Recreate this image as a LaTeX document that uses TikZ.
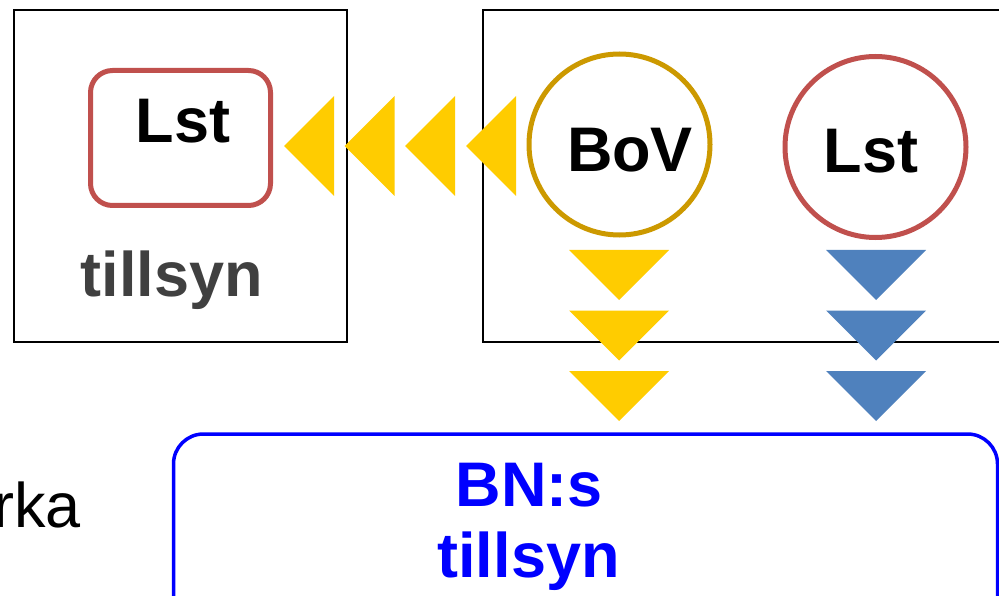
\documentclass[tikz,border=0pt]{standalone}
\usepackage{fontspec}
\setmainfont{Liberation Sans}
\definecolor{triyellow}{HTML}{FFCC00}
\definecolor{goldring}{HTML}{CC9900}
\definecolor{redring}{HTML}{C0504D}
\definecolor{triblue}{HTML}{4F81BD}
\definecolor{graytext}{HTML}{404040}
\definecolor{bntext}{HTML}{0000FF}
\tikzset{
  frame/.style={draw=black, line width=1.5pt},
  bigtext/.style={font=\fontsize{63}{71}\selectfont\bfseries, inner sep=0pt, anchor=base},
  leftarrow/.style={fill=triyellow},
  downyellow/.style={fill=triyellow},
  downblue/.style={fill=triblue},
  ring/.style={circle, line width=5pt, minimum size=181pt, inner sep=0pt},
}
\begin{document}
\begin{tikzpicture}[x=1pt,y=-1pt]
\clip (0,0) rectangle (999,596);
\fill[white] (0,0) rectangle (999,596);
% frames
\draw[frame] (14,10) rectangle (347,342);
\draw[frame] (483,10) rectangle (1020,342);
% left rounded box
\node[draw=redring, line width=5pt, rounded corners=22pt, minimum width=180pt, minimum height=135pt, inner sep=0pt] (lbox) at (180.5,138) {};
\node[bigtext] (lst1) at (183,143) {Lst};
\node[bigtext, text=graytext] (till1) at (172,297) {tillsyn};
% circles
\node[ring, draw=goldring] (bov) at (619.5,144.5) {};
\node[bigtext] (bovt) at (630,172) {BoV};
\node[ring, draw=redring] (lstc) at (875.5,147) {};
\node[bigtext] (lst2) at (871,173) {Lst};
% left-pointing triangles
\foreach \t in {284,344.5,405,466}{
  \fill[leftarrow] (\t,146) -- (\t+50,96) -- (\t+50,196) -- cycle;
}
% down-pointing triangles
\foreach \y in {250,310.5,371}{
  \fill[downyellow] (569,\y) -- (669,\y) -- (619,\y+50) -- cycle;
  \fill[downblue] (826,\y) -- (926,\y) -- (876,\y+50) -- cycle;
}
% bottom box
\node[draw=bntext, line width=3.5pt, rounded corners=30pt, minimum width=824pt, minimum height=240pt, inner sep=0pt] (bn) at (585.5,554) {};
\node[bigtext, text=bntext] (bn1) at (529.5,506) {BN:s};
\node[bigtext, text=bntext] (bn2) at (528.5,577) {tillsyn};
% cut text
\node[font=\fontsize{63}{71}\selectfont, inner sep=0pt, anchor=base east] (rka) at (81,527) {rka};
\end{tikzpicture}
\end{document}
